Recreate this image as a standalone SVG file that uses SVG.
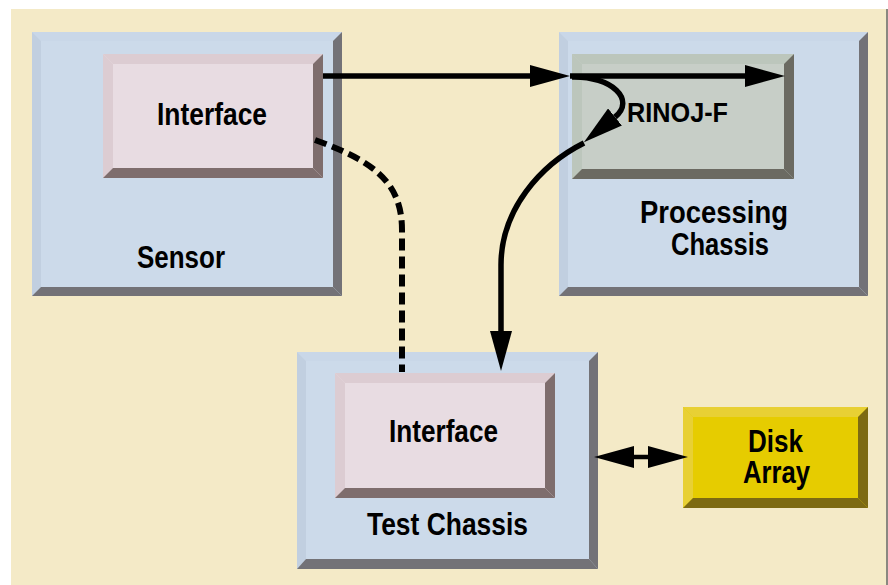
<svg xmlns="http://www.w3.org/2000/svg" width="888" height="585" viewBox="0 0 888 585">
<defs>
<style>
.t{font-family:"Liberation Sans Narrow","Liberation Sans",Arial,sans-serif;font-weight:bold;font-size:32px;fill:#000;text-anchor:middle}
.ln{fill:none;stroke:#000;stroke-width:5.5}
.dash{fill:none;stroke:#000;stroke-width:6;stroke-dasharray:12 6}
.blue{fill:#CCDAEA}.blueT{fill:#C9D7E8}.blueL{fill:#C1CFE0}.blueD{fill:#737277}
.pink{fill:#E8DCE2}.pinkL{fill:#DCCCD2}.pinkD{fill:#7E6D6D}
.grn{fill:#C7CEC7}.grnL{fill:#BCC6BC}.grnD{fill:#6B6A62}
.yel{fill:#E6CC00}.yelL{fill:#E8D034}.yelD{fill:#7D6A12}
</style>
<marker id="ah" viewBox="0 0 40 22" refX="0" refY="11" markerWidth="40" markerHeight="22" markerUnits="userSpaceOnUse" orient="auto-start-reverse">
<path d="M0 0 L40 11 L0 22 Z" fill="#000"/>
</marker>
</defs>
<rect x="0" y="0" width="888" height="585" fill="#fff"/>
<rect x="11" y="9" width="877" height="576" fill="#F4EAC7"/>
<rect x="886" y="9" width="2" height="576" fill="#8a8880"/>

<g id="sensor">
<rect class="blue" x="32" y="32" width="310" height="264"/>
<polygon class="blueT" points="32,32 342,32 333,41 41,41"/>
<polygon class="blueL" points="32,32 41,41 41,287 32,296"/>
<polygon class="blueD" points="342,32 342,296 333,287 333,41"/>
<polygon class="blueD" points="32,296 342,296 333,287 41,287"/>
<text class="t" x="181" y="268" textLength="88" lengthAdjust="spacingAndGlyphs">Sensor</text>
</g>
<g id="sensor-interface">
<rect class="pink" x="103" y="54" width="220" height="124"/>
<polygon class="pinkL" points="103,54 323,54 313,64 113,64"/>
<polygon class="pinkL" points="103,54 113,64 113,168 103,178"/>
<polygon class="pinkD" points="323,54 323,178 313,168 313,64"/>
<polygon class="pinkD" points="103,178 323,178 313,168 113,168"/>
<text class="t" x="212" y="125" textLength="110" lengthAdjust="spacingAndGlyphs">Interface</text>
</g>

<g id="processing-chassis">
<rect class="blue" x="559" y="32" width="309" height="264"/>
<polygon class="blueT" points="559,32 868,32 859,41 568,41"/>
<polygon class="blueL" points="559,32 568,41 568,287 559,296"/>
<polygon class="blueD" points="868,32 868,296 859,287 859,41"/>
<polygon class="blueD" points="559,296 868,296 859,287 568,287"/>
<text class="t" x="714" y="223" textLength="148" lengthAdjust="spacingAndGlyphs">Processing</text>
<text class="t" x="720" y="255" textLength="98" lengthAdjust="spacingAndGlyphs">Chassis</text>
</g>
<g id="rinoj-f">
<rect class="grn" x="572" y="54" width="222" height="125"/>
<polygon class="grnL" points="572,54 794,54 784,64 582,64"/>
<polygon class="grnL" points="572,54 582,64 582,169 572,179"/>
<polygon class="grnD" points="794,54 794,179 784,169 784,64"/>
<polygon class="grnD" points="572,179 794,179 784,169 582,169"/>
<text class="t" x="677.5" y="122" style="font-size:28px" textLength="101" lengthAdjust="spacingAndGlyphs">RINOJ-F</text>
</g>

<g id="test-chassis">
<rect class="blue" x="297" y="352" width="301" height="217"/>
<polygon class="blueT" points="297,352 598,352 589,361 306,361"/>
<polygon class="blueL" points="297,352 306,361 306,559 297,569"/>
<polygon class="blueD" points="598,352 598,569 589,559 589,361"/>
<polygon class="blueD" points="297,569 598,569 589,559 306,559"/>
<text class="t" x="447.5" y="535" textLength="161" lengthAdjust="spacingAndGlyphs">Test Chassis</text>
</g>
<g id="test-interface">
<rect class="pink" x="335" y="373" width="220" height="125"/>
<polygon class="pinkL" points="335,373 555,373 545,383 345,383"/>
<polygon class="pinkL" points="335,373 345,383 345,488 335,498"/>
<polygon class="pinkD" points="555,373 555,498 545,488 545,383"/>
<polygon class="pinkD" points="335,498 555,498 545,488 345,488"/>
<text class="t" x="443.5" y="442" textLength="109" lengthAdjust="spacingAndGlyphs">Interface</text>
</g>

<g id="disk-array">
<rect class="yel" x="683" y="407" width="185" height="101"/>
<polygon class="yelL" points="683,407 868,407 858,417 693,417"/>
<polygon class="yelL" points="683,407 693,417 693,498 683,508"/>
<polygon class="yelD" points="868,407 868,508 858,498 858,417"/>
<polygon class="yelD" points="683,508 868,508 858,498 693,498"/>
<text class="t" x="775.5" y="452" textLength="55" lengthAdjust="spacingAndGlyphs">Disk</text>
<text class="t" x="776.5" y="483" textLength="67" lengthAdjust="spacingAndGlyphs">Array</text>
</g>

<g id="connectors">
<path class="ln" d="M323 76 H530" marker-end="url(#ah)"/>
<path class="ln" d="M570 76 H745" marker-end="url(#ah)"/>
<path class="ln" d="M572 77 C612 76 636 100 615 117" marker-end="url(#ah)"/>
<path class="ln" d="M584 143 C540 165 501 210 501 265 L501 331" marker-end="url(#ah)"/>
<path class="dash" d="M315 140 C370 160 402 180 402 230 L402 372"/>
<path class="ln" style="stroke-width:4.5" d="M634 457 H648" marker-start="url(#ah)" marker-end="url(#ah)"/>
</g>
</svg>
